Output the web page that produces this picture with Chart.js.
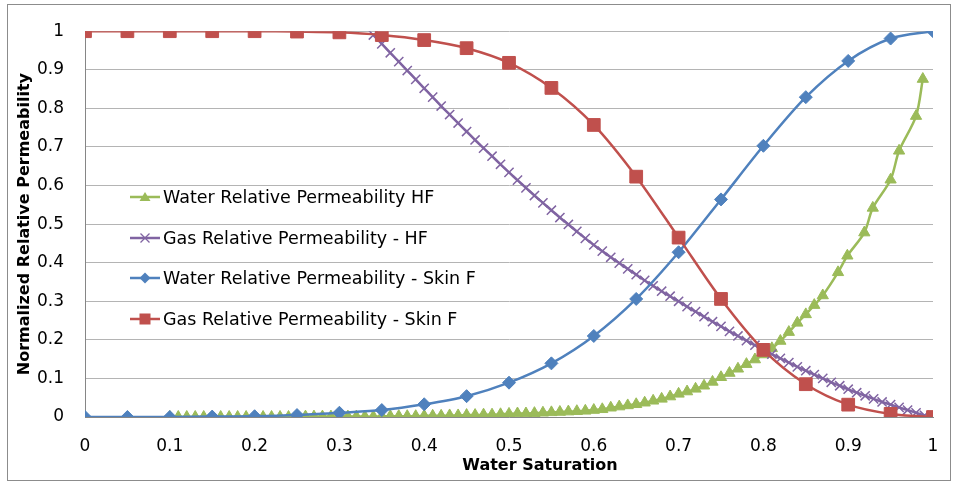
<!DOCTYPE html>
<html>
<head>
<meta charset="utf-8">
<script src="https://cdn.jsdelivr.net/npm/chart.js@4.4.1/dist/chart.umd.min.js"></script>
<style>
html,body{margin:0;padding:0;background:#fff;}
#wrap{position:relative;width:954px;height:484px;font-family:"DejaVu Sans","Open Sans",sans-serif;color:#000;overflow:hidden;}
#frame{position:absolute;left:7px;top:4px;width:944px;height:477px;border:1px solid #8c8c8c;box-sizing:border-box;pointer-events:none;}
#chart{position:absolute;left:0;top:0;}
#xtitle{position:absolute;top:455px;left:540px;transform:translateX(-50%);font-weight:bold;font-size:16px;white-space:nowrap;line-height:20px;}
.li{position:absolute;left:130px;height:22px;display:flex;align-items:center;font-size:17.5px;white-space:nowrap;}
.li svg{margin-right:3px;}
</style>
</head>
<body>
<div id="wrap">
  <canvas id="chart" width="954" height="484"></canvas>
  <div id="frame"></div>
  <div id="legend"></div>
  <div id="xtitle"></div>
</div>
<script>
// ---------- data ----------
const xTitle = "Water Saturation";
const yTitle = "Normalized Relative Permeability";
const seriesLabels = [
  "Water Relative Permeability HF",
  "Gas Relative Permeability - HF",
  "Water Relative Permeability - Skin F",
  "Gas Relative Permeability - Skin F"
];
const xTickLabels = ["0","0.1","0.2","0.3","0.4","0.5","0.6","0.7","0.8","0.9","1"];
const yTickLabels = ["0","0.1","0.2","0.3","0.4","0.5","0.6","0.7","0.8","0.9","1"];

// Skin F series (x every 0.05)
const skinSaturation = [0,0.05,0.1,0.15,0.2,0.25,0.3,0.35,0.4,0.45,0.5,0.55,0.6,0.65,0.7,0.75,0.8,0.85,0.9,0.95,1];
const waterSkinF = [0,0,0,0.001,0.002,0.005,0.011,0.018,0.033,0.054,0.089,0.139,0.21,0.306,0.427,0.564,0.703,0.829,0.923,0.981,1];
const gasSkinF = [1,1,1,1,1,0.999,0.997,0.99,0.977,0.956,0.918,0.853,0.757,0.623,0.465,0.306,0.174,0.085,0.032,0.008,0];

// HF gas series
const gasHFSaturation = [0.34,0.35,0.36,0.37,0.38,0.39,0.40,0.41,0.42,0.43,0.44,0.45,0.46,0.47,0.48,0.49,
  0.50,0.51,0.52,0.53,0.54,0.55,0.56,0.57,0.58,0.59,0.60,0.61,0.62,0.63,0.64,0.65,0.66,0.67,0.68,0.69,
  0.70,0.71,0.72,0.73,0.74,0.75,0.76,0.77,0.78,0.79,0.80,0.81,0.82,0.83,0.84,0.85,0.86,0.87,0.88,0.89,
  0.90,0.91,0.92,0.93,0.94,0.95,0.96,0.97,0.98,0.99];
const gasHF = [0.990,0.967,0.944,0.921,0.898,0.875,0.852,0.829,0.806,0.784,0.762,0.740,0.718,0.697,0.676,0.655,
  0.634,0.614,0.594,0.574,0.555,0.536,0.517,0.499,0.481,0.463,0.446,0.430,0.414,0.399,0.384,0.369,0.354,0.340,0.326,0.313,
  0.300,0.286,0.273,0.260,0.247,0.235,0.222,0.210,0.198,0.186,0.175,0.163,0.152,0.141,0.130,0.120,0.110,0.100,0.090,0.081,
  0.072,0.063,0.055,0.047,0.039,0.032,0.025,0.018,0.011,0.004];

// HF water series
const waterHFSaturation = [0.10,0.11,0.12,0.13,0.14,0.15,0.16,0.17,0.18,0.19,0.20,0.21,0.22,0.23,0.24,0.25,0.26,0.27,0.28,0.29,
  0.30,0.31,0.32,0.33,0.34,0.35,0.36,0.37,0.38,0.39,0.40,0.41,0.42,0.43,0.44,0.45,0.46,0.47,0.48,0.49,
  0.50,0.51,0.52,0.53,0.54,0.55,0.56,0.57,0.58,0.59,0.60,0.61,0.62,0.63,0.64,0.65,0.66,0.67,0.68,0.69,
  0.70,0.71,0.72,0.73,0.74,0.75,0.76,0.77,0.78,0.79,0.80,0.81,0.82,0.83,0.84,0.85,0.86,0.87,
  0.888,0.899,0.919,0.929,0.950,0.960,0.980,0.988];
const waterHF = [0,0,0,0,0,0,0,0,0,0,0,0,0,0,0,0.001,0.001,0.001,0.001,0.001,
  0.001,0.001,0.001,0.001,0.001,0.002,0.002,0.002,0.002,0.002,0.003,0.003,0.003,0.004,0.004,0.005,0.005,0.006,0.006,0.007,
  0.008,0.009,0.009,0.010,0.011,0.012,0.013,0.014,0.015,0.016,0.018,0.020,0.024,0.027,0.030,0.033,0.037,0.042,0.047,0.053,
  0.060,0.066,0.073,0.081,0.091,0.103,0.114,0.125,0.137,0.149,0.162,0.178,0.197,0.220,0.244,0.266,0.290,0.315,
  0.375,0.418,0.478,0.542,0.615,0.690,0.780,0.876];

// ---------- styling ----------
const FONT = "'DejaVu Sans', 'Open Sans', sans-serif";
const palette = { green:"#9BBB59", purple:"#8064A2", blue:"#4F81BD", red:"#C0504D" };

function zip(xs, ys){ return xs.map((x,i)=>({x:x, y:ys[i]})); }

const datasets = [
  { label: seriesLabels[0], data: zip(waterHFSaturation, waterHF), borderColor: palette.green,
    pointStyle:'triangle', pointRadius:6.5, pointBorderWidth:1, order:4 },
  { label: seriesLabels[1], data: zip(gasHFSaturation, gasHF), borderColor: palette.purple,
    pointStyle:'crossRot', pointRadius:6.5, pointBorderWidth:1.5, order:3 },
  { label: seriesLabels[2], data: zip(skinSaturation, waterSkinF), borderColor: palette.blue,
    pointStyle:'rectRot', pointRadius:6.5, pointBorderWidth:1, order:2 },
  { label: seriesLabels[3], data: zip(skinSaturation, gasSkinF), borderColor: palette.red,
    pointStyle:'rect', pointRadius:9, pointBorderWidth:1, order:1 }
];
datasets.forEach(d => { d.showLine = true; d.borderWidth = 2.5; d.tension = 0.3; d.fill = false;
  d.backgroundColor = d.borderColor; d.pointBorderColor = d.borderColor; d.pointBackgroundColor = d.borderColor; });

new Chart(document.getElementById('chart'), {
  type: 'scatter',
  data: { datasets: datasets },
  options: {
    responsive: false, animation: false, devicePixelRatio: 1,
    layout: { padding: { top: 22, right: 21, left: 0, bottom: 0 } },
    plugins: { legend: { display: false }, tooltip: { enabled: false } },
    scales: {
      x: {
        type: 'linear', min: 0, max: 1,
        ticks: { stepSize: 0.1, padding: 15, color: '#000', font: { family: FONT, size: 17, lineHeight: 1.7 },
          callback: v => xTickLabels[Math.round(v * 10)] },
        grid: { display: false, drawTicks: false },
        border: { display: true, color: '#868686', width: 1 },
        afterFit: s => { s.height = 67; }
      },
      y: {
        type: 'linear', min: 0, max: 1,
        ticks: { stepSize: 0.1, padding: 21, color: '#000', font: { family: FONT, size: 17 },
          callback: v => yTickLabels[Math.round(v * 10)] },
        grid: { color: '#b4b4b4', lineWidth: 1, drawTicks: false },
        border: { display: true, color: '#868686', width: 1 },
        title: { display: true, text: yTitle, color: '#000', font: { family: FONT, size: 16, weight: 'bold' },
          padding: { top: 15, bottom: 0 } },
        afterFit: s => { s.width = 85; }
      }
    }
  }
});

// ---------- HTML legend & x title ----------
document.getElementById('xtitle').textContent = xTitle;
const legendCenters = [197, 238, 278, 319];
function markerSvg(ds){
  const c = ds.borderColor, cx = 15, cy = 11;
  let m = '';
  if (ds.pointStyle === 'triangle') m = `<polygon points="${cx},${cy-5} ${cx+5.5},${cy+4} ${cx-5.5},${cy+4}" fill="${c}"/>`;
  else if (ds.pointStyle === 'crossRot') m = `<path d="M${cx-4.5},${cy-4.5}L${cx+4.5},${cy+4.5}M${cx+4.5},${cy-4.5}L${cx-4.5},${cy+4.5}" stroke="${c}" stroke-width="1.3"/>`;
  else if (ds.pointStyle === 'rectRot') m = `<polygon points="${cx},${cy-5.5} ${cx+5.5},${cy} ${cx},${cy+5.5} ${cx-5.5},${cy}" fill="${c}"/>`;
  else m = `<rect x="${cx-5.5}" y="${cy-5.5}" width="11" height="11" fill="${c}"/>`;
  return `<svg width="30" height="22"><line x1="0" y1="11" x2="30" y2="11" stroke="${c}" stroke-width="2.5"/>${m}</svg>`;
}
const leg = document.getElementById('legend');
datasets.forEach((ds, i) => {
  const el = document.createElement('div');
  el.className = 'li';
  el.style.top = (legendCenters[i] - 11) + 'px';
  el.innerHTML = markerSvg(ds) + '<span></span>';
  el.querySelector('span').textContent = ds.label;
  leg.appendChild(el);
});
</script>
</body>
</html>
